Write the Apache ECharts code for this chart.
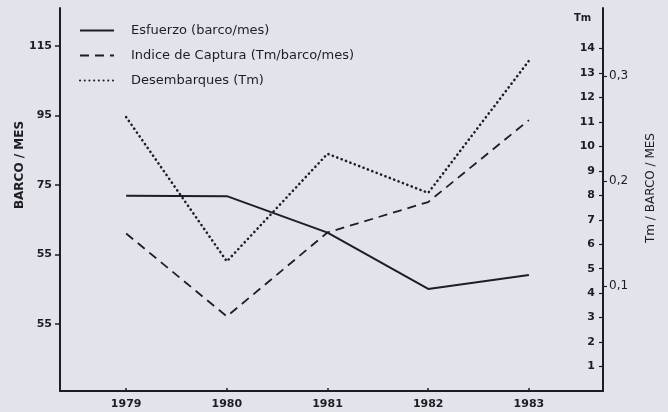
<!DOCTYPE html>
<html>
<head>
<meta charset="utf-8">
<script src="https://cdn.jsdelivr.net/npm/echarts@6/dist/echarts.min.js"></script>
<style>
  html, body { margin: 0; padding: 0; background: #e3e3eb; }
  #chart { width: 668px; height: 412px; }
</style>
</head>
<body>
<div id="chart"></div>
<script>
// values
const years = [1979, 1980, 1981, 1982, 1983]
const esfuerzo = [71.9, 71.8, 61.3, 45.1, 49.1]          // barco / mes (left axis)
const indiceCaptura = [0.150, 0.071, 0.151, 0.180, 0.258] // Tm / barco / mes
const desembarques = [11.2, 5.3, 9.7, 8.1, 13.5]          // Tm

// left axis ticks (the original labels the lowest tick "55")
const leftTickValues = [35, 55, 75, 95, 115]
const leftTickLabels = ['55', '55', '75', '95', '115']
const tmTicks = [1, 2, 3, 4, 5, 6, 7, 8, 9, 10, 11, 12, 13, 14]
const indiceTicks = [0.1, 0.2, 0.3]

const ink = '#1e1e22'
const font = 'DejaVu Sans'

const pairs = vals => years.map((y, i) => [y, vals[i]])

const chart = echarts.init(document.getElementById('chart'))

const option = {
  backgroundColor: '#e3e3eb',
  animation: false,
  textStyle: { fontFamily: font, color: ink },
  grid: { left: 60, right: 65, top: 8, bottom: 21 },
  legend: {
    orient: 'vertical',
    left: 74,
    top: 19,
    itemWidth: 34,
    itemHeight: 14,
    itemGap: 12,
    // hide the marker the line icon would otherwise carry
    itemStyle: { opacity: 0 },
    textStyle: { fontFamily: font, fontSize: 13, color: ink, padding: [0, 0, 0, 12] },
    data: ['Esfuerzo (barco/mes)', 'Indice de Captura (Tm/barco/mes)', 'Desembarques (Tm)']
  },
  xAxis: {
    type: 'value',
    min: 1978.343,
    max: 1983.736,
    splitLine: { show: false },
    axisLine: { show: true, lineStyle: { color: ink, width: 2 } },
    axisTick: { show: true, inside: true, length: 3, customValues: years, lineStyle: { color: ink, width: 1.5 } },
    axisLabel: {
      customValues: years,
      formatter: v => String(v),
      margin: 8,
      fontSize: 11,
      fontWeight: 'bold',
      color: ink
    }
  },
  yAxis: [
    {
      type: 'value',
      position: 'left',
      min: 15.72,
      max: 125.94,
      splitLine: { show: false },
      axisLine: { show: true, lineStyle: { color: ink, width: 2 } },
      axisTick: { show: true, length: 5, customValues: leftTickValues, lineStyle: { color: ink, width: 1.5 } },
      axisLabel: {
        customValues: leftTickValues,
        formatter: v => leftTickLabels[leftTickValues.indexOf(v)],
        margin: 8,
        fontSize: 11,
        fontWeight: 'bold',
        color: ink
      }
    },
    {
      type: 'value',
      position: 'right',
      min: 0,
      max: 15.66,
      splitLine: { show: false },
      axisLine: { show: true, lineStyle: { color: ink, width: 2 } },
      axisTick: { show: true, inside: true, length: 4, customValues: tmTicks, lineStyle: { color: ink, width: 1.2 } },
      axisLabel: {
        inside: true,
        customValues: tmTicks,
        margin: 8,
        fontSize: 11,
        fontWeight: 'bold',
        color: ink
      }
    },
    {
      type: 'value',
      position: 'right',
      offset: 0,
      min: 0,
      max: 0.3648,
      splitLine: { show: false },
      axisLine: { show: false },
      axisTick: { show: true, length: 4, customValues: indiceTicks, lineStyle: { color: ink, width: 1.2 } },
      axisLabel: {
        customValues: indiceTicks,
        formatter: v => v.toFixed(1).replace('.', ','),
        margin: 6,
        fontSize: 12,
        color: ink
      }
    }
  ],
  graphic: [
    {
      type: 'text',
      left: 574,
      top: 13,
      style: { text: 'Tm', font: 'bold 10px "DejaVu Sans"', fill: ink }
    },
    {
      type: 'text',
      x: 20,
      y: 165,
      rotation: Math.PI / 2,
      style: { text: 'BARCO / MES', font: 'bold 12px "DejaVu Sans"', fill: ink, align: 'center', verticalAlign: 'middle' }
    },
    {
      type: 'text',
      x: 651,
      y: 188,
      rotation: Math.PI / 2,
      style: { text: 'Tm / BARCO / MES', font: '12px "DejaVu Sans"', fill: ink, align: 'center', verticalAlign: 'middle' }
    }
  ],
  series: [
    {
      name: 'Esfuerzo (barco/mes)',
      type: 'line',
      yAxisIndex: 0,
      data: pairs(esfuerzo),
      symbol: 'none',
      lineStyle: { color: ink, width: 2 },
      itemStyle: { color: ink }
    },
    {
      name: 'Indice de Captura (Tm/barco/mes)',
      type: 'line',
      yAxisIndex: 2,
      data: pairs(indiceCaptura),
      symbol: 'none',
      lineStyle: { color: ink, width: 1.8, type: [9, 6] },
      itemStyle: { color: ink }
    },
    {
      name: 'Desembarques (Tm)',
      type: 'line',
      yAxisIndex: 1,
      data: pairs(desembarques),
      symbol: 'none',
      lineStyle: { color: ink, width: 2.6, type: [0.1, 4.6], cap: 'round' },
      itemStyle: { color: ink }
    }
  ]
}

chart.setOption(option)
</script>
</body>
</html>
